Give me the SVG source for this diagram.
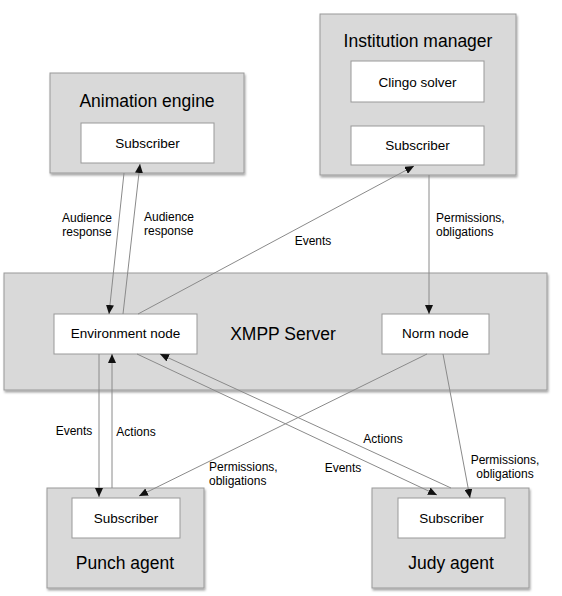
<svg xmlns="http://www.w3.org/2000/svg" width="562" height="596" viewBox="0 0 562 596">
<style>
.outer{fill:#d9d9d9;stroke:#999;stroke-width:1;filter:url(#sh)}
.inner{fill:#fff;stroke:#999;stroke-width:1}
.title{font-family:"Liberation Sans",Arial,sans-serif;font-size:17.5px;fill:#000;text-anchor:middle}
.txt{font-family:"Liberation Sans",Arial,sans-serif;font-size:13.5px;fill:#000;text-anchor:middle}
.lbl{font-family:"Liberation Sans",Arial,sans-serif;font-size:12px;fill:#000}
.c{fill:none;stroke:#8a8a8a;stroke-width:1;marker-end:url(#ah)}
</style>
<defs>
<filter id="sh" x="-5%" y="-5%" width="115%" height="120%">
<feDropShadow dx="1" dy="2" stdDeviation="1.2" flood-color="#000" flood-opacity="0.35"/>
</filter>
<marker id="ah" markerUnits="userSpaceOnUse" markerWidth="10" markerHeight="8" refX="9" refY="4" orient="auto">
<path d="M0,0 L9,4 L0,8 z" fill="#111"/>
</marker>
</defs>
<rect width="562" height="596" fill="#fff"/>

<g id="xmpp-server">
<rect class="outer" x="4" y="273" width="543" height="117"/>
<text class="title" x="283" y="340">XMPP Server</text>
</g>
<g id="environment-node">
<rect class="inner" x="54" y="314" width="143" height="40"/>
<text class="txt" x="125.5" y="338">Environment node</text>
</g>
<g id="norm-node">
<rect class="inner" x="382" y="314" width="107" height="40"/>
<text class="txt" x="435.5" y="338">Norm node</text>
</g>

<g id="animation-engine">
<rect class="outer" x="50" y="73" width="194" height="100"/>
<text class="title" x="147" y="107">Animation engine</text>
<rect class="inner" x="81" y="123" width="133" height="40"/>
<text class="txt" x="147.5" y="148">Subscriber</text>
</g>

<g id="institution-manager">
<rect class="outer" x="320" y="14" width="196" height="161"/>
<text class="title" x="418" y="47">Institution manager</text>
<rect class="inner" x="351" y="61" width="133" height="41"/>
<text class="txt" x="417.5" y="87">Clingo solver</text>
<rect class="inner" x="351" y="126" width="133" height="39"/>
<text class="txt" x="417.5" y="150">Subscriber</text>
</g>

<g id="punch-agent">
<rect class="outer" x="47" y="488" width="157" height="100"/>
<rect class="inner" x="72" y="498" width="108" height="40"/>
<text class="txt" x="126" y="523">Subscriber</text>
<text class="title" x="125" y="569">Punch agent</text>
</g>

<g id="judy-agent">
<rect class="outer" x="372" y="488" width="157" height="100"/>
<rect class="inner" x="398" y="498" width="107" height="40"/>
<text class="txt" x="451.5" y="523">Subscriber</text>
<text class="title" x="451" y="569">Judy agent</text>
</g>

<g id="connectors">
<line class="c" x1="124" y1="173" x2="109" y2="314"/>
<line class="c" x1="123" y1="314" x2="140" y2="164"/>
<line class="c" x1="138" y1="314" x2="414" y2="166"/>
<line class="c" x1="429" y1="175" x2="429" y2="314"/>
<line class="c" x1="99" y1="354" x2="99" y2="497"/>
<line class="c" x1="112" y1="488" x2="112" y2="354"/>
<line class="c" x1="427" y1="354" x2="139" y2="496"/>
<line class="c" x1="443" y1="354" x2="470" y2="498"/>
<line class="c" x1="137" y1="354" x2="437" y2="495"/>
<line class="c" x1="451" y1="488" x2="160" y2="354"/>

<text class="lbl" x="87" y="222" text-anchor="middle">Audience</text>
<text class="lbl" x="87" y="236" text-anchor="middle">response</text>
<text class="lbl" x="144" y="221">Audience</text>
<text class="lbl" x="144" y="235">response</text>
<text class="lbl" x="313" y="245" text-anchor="middle">Events</text>
<text class="lbl" x="436" y="222">Permissions,</text>
<text class="lbl" x="436" y="236">obligations</text>
<text class="lbl" x="74" y="435" text-anchor="middle">Events</text>
<text class="lbl" x="136" y="436" text-anchor="middle">Actions</text>
<text class="lbl" x="209" y="471">Permissions,</text>
<text class="lbl" x="209" y="485">obligations</text>
<text class="lbl" x="383" y="443" text-anchor="middle">Actions</text>
<text class="lbl" x="343" y="472" text-anchor="middle">Events</text>
<text class="lbl" x="505" y="464" text-anchor="middle">Permissions,</text>
<text class="lbl" x="505" y="478" text-anchor="middle">obligations</text>
</g>
</svg>
